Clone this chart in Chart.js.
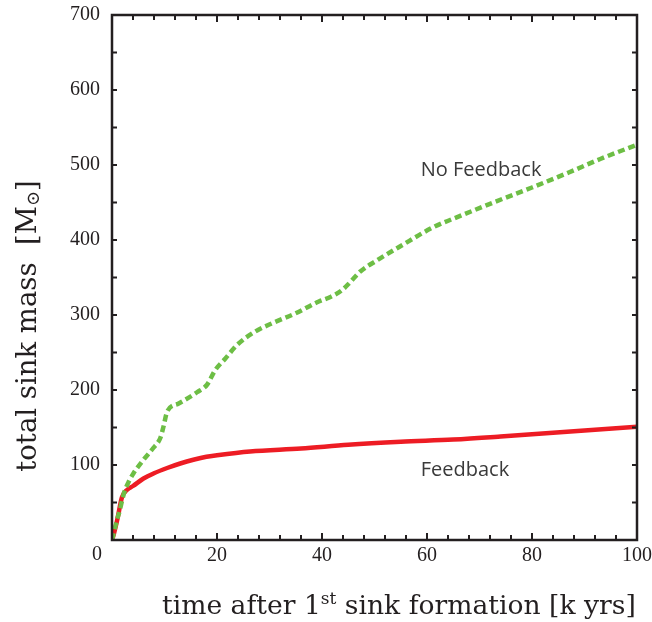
<!DOCTYPE html>
<html>
<head>
<meta charset="utf-8">
<script src="https://cdn.jsdelivr.net/npm/chart.js@4.4.1/dist/chart.umd.min.js"></script>
<style>
  html, body { margin: 0; padding: 0; background: #fff; }
  #wrap { width: 652px; height: 622px; }
</style>
</head>
<body>
<div id="wrap"><canvas id="mass-chart" width="652" height="622"></canvas></div>
<script>
// --- Data: total sink mass [Msun] vs time after first sink [k yrs] ---
const timeNoFeedback = [0, 0.5, 1, 1.5, 2, 2.5, 3.2, 4.1, 6, 7.9, 9.2, 9.8, 10.5, 12.7, 16.2, 18.1, 19.7, 21.6, 23.8, 27.3, 30.5, 34.9, 39.4, 41.6, 43.8, 45.4, 47.3, 50.5, 55, 61.2, 67, 73, 80, 87, 93, 100];
const massNoFeedback = [0, 14, 28, 40, 55, 67, 78, 89, 107, 123, 136, 151, 171, 182, 197, 207, 227, 242, 260, 278, 289, 302, 318, 324, 333, 344, 358, 373, 392, 417, 434, 451, 470, 490, 508, 527];

const timeFeedback = [0, 0.2, 1, 1.9, 2.9, 4, 6, 8, 10.5, 13, 15.5, 18, 20, 26.3, 36, 45, 55, 65, 74, 80, 84, 90, 100];
const massFeedback = [0, 4, 27, 57, 67, 72, 82, 89, 96, 102, 107, 111, 113, 118, 122, 127, 131, 134, 138, 141, 143, 146, 151];

// curve labels, placed in data units (time, mass)
const curveLabels = [
    { text: 'No Feedback', t: 58.8, m: 493 },
    { text: 'Feedback', t: 58.8, m: 93 }
];

const INK = '#231f20';
const SERIF = '"DejaVu Serif", "Liberation Serif", serif';
const TICK_FONT = '"Liberation Serif", serif';

function toPoints(xs, ys) {
    return xs.map((x, i) => ({ x: x, y: ys[i] }));
}

// --- Frame, inward ticks, axis titles and curve labels ---
const decorations = {
    id: 'decorations',
    afterDatasetsDraw(chart) {
        const { ctx, chartArea: a, scales: { x, y } } = chart;
        ctx.save();
        ctx.strokeStyle = INK;
        ctx.lineWidth = 2;
        ctx.beginPath();
        for (let v = 4; v < 100; v += 4) {
            const px = x.getPixelForValue(v);
            const len = v % 20 === 0 ? 7 : 5;
            ctx.moveTo(px, a.bottom); ctx.lineTo(px, a.bottom - len);
            ctx.moveTo(px, a.top); ctx.lineTo(px, a.top + len);
        }
        for (let v = 50; v < 700; v += 50) {
            const py = y.getPixelForValue(v);
            ctx.moveTo(a.left, py); ctx.lineTo(a.left + 5, py);
            ctx.moveTo(a.right, py); ctx.lineTo(a.right - 5, py);
        }
        ctx.stroke();

        ctx.lineWidth = 2.5;
        ctx.strokeRect(a.left, a.top, a.right - a.left, a.bottom - a.top);

        // shared origin label
        ctx.fillStyle = INK;
        ctx.font = '20px ' + TICK_FONT;
        ctx.textAlign = 'center';
        ctx.textBaseline = 'middle';
        ctx.fillText('0', x.getPixelForValue(0) - 15, a.bottom + 15);

        // curve labels
        ctx.fillStyle = '#3a3a3a';
        ctx.font = '20px "Open Sans", sans-serif';
        ctx.textAlign = 'left';
        curveLabels.forEach(l => {
            ctx.fillText(l.text, x.getPixelForValue(l.t), y.getPixelForValue(l.m));
        });

        // x axis title with superscript
        ctx.fillStyle = INK;
        ctx.textBaseline = 'alphabetic';
        const parts = [
            { s: 'time after 1', size: 26.6, dy: 0 },
            { s: 'st', size: 17, dy: -10 },
            { s: ' sink formation [k yrs]', size: 26.6, dy: 0 }
        ];
        let cx = 162;
        parts.forEach(p => {
            ctx.font = p.size + 'px ' + SERIF;
            ctx.fillText(p.s, cx, 614 + p.dy);
            cx += ctx.measureText(p.s).width;
        });

        // y axis title, rotated
        ctx.translate(36, 326);
        ctx.rotate(-Math.PI / 2);
        const yParts = [
            { s: 'total sink mass  [M', size: 27.5, dy: 0 },
            { s: '\u2299', size: 18, dy: 3 },
            { s: ']', size: 27.5, dy: 0 }
        ];
        let total = 0;
        yParts.forEach(p => { ctx.font = p.size + 'px ' + SERIF; total += ctx.measureText(p.s).width; });
        let ty = -total / 2;
        yParts.forEach(p => {
            ctx.font = p.size + 'px ' + SERIF;
            ctx.fillText(p.s, ty, p.dy);
            ty += ctx.measureText(p.s).width;
        });
        ctx.restore();
    }
};

const ctx = document.getElementById('mass-chart').getContext('2d');
new Chart(ctx, {
    type: 'line',
    data: {
        datasets: [
            {
                label: 'No Feedback',
                data: toPoints(timeNoFeedback, massNoFeedback),
                borderColor: '#6dbe45',
                borderWidth: 4.5,
                borderDash: [7, 4],
                pointRadius: 0,
                cubicInterpolationMode: 'monotone'
            },
            {
                label: 'Feedback',
                data: toPoints(timeFeedback, massFeedback),
                borderColor: '#ed1c24',
                borderWidth: 4.5,
                pointRadius: 0,
                cubicInterpolationMode: 'monotone'
            }
        ]
    },
    options: {
        responsive: false,
        animation: false,
        layout: { padding: { top: 15, right: 15, left: 0, bottom: 0 } },
        plugins: {
            legend: { display: false },
            tooltip: { enabled: false }
        },
        scales: {
            x: {
                type: 'linear',
                min: 0,
                max: 100,
                grid: { display: false, drawTicks: false },
                border: { display: false },
                afterFit(s) {
                    s.height = 82;
                    s.paddingLeft = 0;
                    s.paddingRight = 0;
                },
                ticks: {
                    stepSize: 20,
                    padding: 4,
                    color: INK,
                    font: { family: TICK_FONT, size: 20 },
                    callback: v => (v === 0 ? '' : v)
                }
            },
            y: {
                min: 0,
                max: 700,
                grid: { display: false, drawTicks: false },
                border: { display: false },
                afterFit(s) {
                    s.width = 112;
                    s.paddingTop = 0;
                    s.paddingBottom = 0;
                },
                ticks: {
                    stepSize: 100,
                    padding: 12,
                    color: INK,
                    font: { family: TICK_FONT, size: 20 },
                    callback: v => (v === 0 ? '' : v)
                }
            }
        }
    },
    plugins: [decorations]
});
</script>
</body>
</html>
